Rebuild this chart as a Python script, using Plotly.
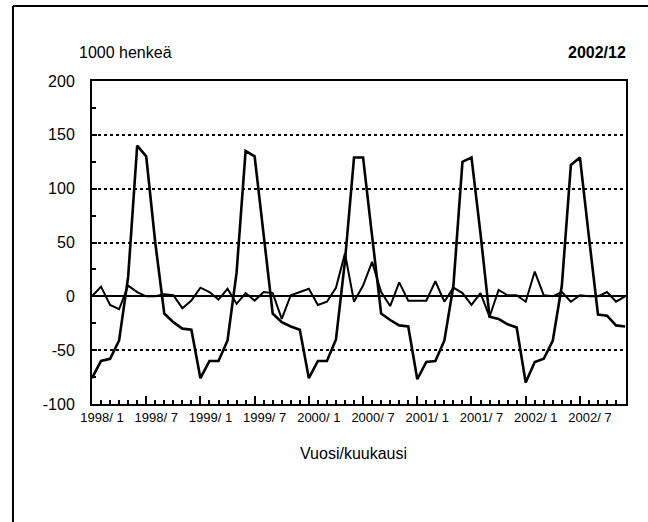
import plotly.graph_objects as go

# Months 1998/1 .. 2002/12 (index 0..59)
years = [1998, 1999, 2000, 2001, 2002]
months = [f"{y}/{m}" for y in years for m in range(1, 13)]
month_index = list(range(len(months)))

# Large seasonal series (1000 persons)
series_a = [
    -76, -60, -58, -41, 18, 140, 130, 50, -16, -24, -30, -31,
    -76, -60, -60, -41, 22, 135, 130, 55, -16, -24, -28, -31,
    -76, -60, -60, -40, 33, 129, 129, 56, -16, -22, -27, -28,
    -77, -61, -60, -41, 10, 125, 129, 58, -19, -21, -26, -29,
    -80, -61, -58, -41, 10, 122, 129, 55, -17, -18, -27, -28,
]

# Small series fluctuating around zero (1000 persons)
series_b = [
    0, 9, -8, -12, 10, 4, 0, 0, 2, 1, -11, -4,
    8, 4, -3, 7, -7, 3, -4, 4, 3, -21, 1, 4,
    7, -8, -5, 8, 40, -5, 10, 32, 4, -9, 13, -4,
    -4, -4, 14, -5, 8, 3, -8, 3, -19, 6, 1, 1,
    -5, 23, 1, 0, 4, -5, 1, 0, 0, 4, -5, 0,
]

# Labelled ticks every six months
tick_idx = list(range(0, 60, 6))
tick_text = [months[i].replace("/", "/ ") for i in tick_idx]
y_ticks = [-100, -50, 0, 50, 100, 150, 200]
y_text = ["-100", "-50", "0", "50", "100", "150", "200"]

FONT = "Liberation Sans, Arial, Helvetica, sans-serif"

fig = go.Figure()
fig.add_trace(go.Scatter(x=month_index, y=series_a, mode="lines",
                         line=dict(color="black", width=2.6), showlegend=False))
fig.add_trace(go.Scatter(x=month_index, y=series_b, mode="lines",
                         line=dict(color="black", width=2.0), showlegend=False))

fig.update_layout(
    width=648, height=522,
    margin=dict(l=92, r=22, t=81, b=118),
    paper_bgcolor="white", plot_bgcolor="white",
    font=dict(family=FONT, color="black", size=16),
    showlegend=False,
)

fig.update_xaxes(
    range=[0, 59.1],
    tickmode="array", tickvals=tick_idx, ticktext=tick_text,
    ticks="inside", ticklen=8, tickwidth=1.5, tickcolor="black",
    ticklabelshift=10, ticklabelstandoff=0,
    tickfont=dict(size=13, family=FONT),
    minor=dict(tickmode="linear", tick0=0, dtick=1, ticks="inside",
               ticklen=4, tickwidth=1.5, tickcolor="black", showgrid=False),
    showgrid=False, zeroline=False,
    showline=True, linecolor="black", linewidth=2, mirror=True,
)

fig.update_yaxes(
    range=[-100, 200],
    tickmode="array", tickvals=y_ticks, ticktext=y_text,
    ticks="inside", ticklen=5, tickwidth=1.5, tickcolor="black",
    ticklabelstandoff=12,
    tickfont=dict(size=16, family=FONT),
    minor=dict(tickmode="linear", tick0=0, dtick=25, ticks="inside",
               ticklen=4, tickwidth=1.5, tickcolor="black", showgrid=False),
    showgrid=True, gridcolor="black", gridwidth=1.5, griddash="dot",
    zeroline=True, zerolinecolor="black", zerolinewidth=2,
    showline=True, linecolor="black", linewidth=2, mirror=True,
)

fig.add_annotation(text="1000 henkeä", xref="paper", yref="paper",
                   x=-0.028, y=1.087, xanchor="left", yanchor="middle",
                   showarrow=False, font=dict(size=16, family=FONT))
fig.add_annotation(text="<b>2002/12</b>", xref="paper", yref="paper",
                   x=1.004, y=1.087, xanchor="right", yanchor="middle",
                   showarrow=False, font=dict(size=16, family=FONT))
fig.add_annotation(text="Vuosi/kuukausi", xref="paper", yref="paper",
                   x=0.4906, y=-0.152, xanchor="center", yanchor="middle",
                   showarrow=False, font=dict(size=16, family=FONT))

# Outer page frame (top and left edges)
fig.add_shape(type="line", xref="paper", yref="paper",
              x0=-0.148, y0=1.232, x1=1.05, y1=1.232,
              line=dict(color="black", width=2))
fig.add_shape(type="line", xref="paper", yref="paper",
              x0=-0.148, y0=1.232, x1=-0.148, y1=-0.37,
              line=dict(color="black", width=2))

fig.write_html(
    "out.html",
    config={"displayModeBar": False},
    post_script="document.body.style.margin='0';document.body.style.overflow='hidden';",
)
